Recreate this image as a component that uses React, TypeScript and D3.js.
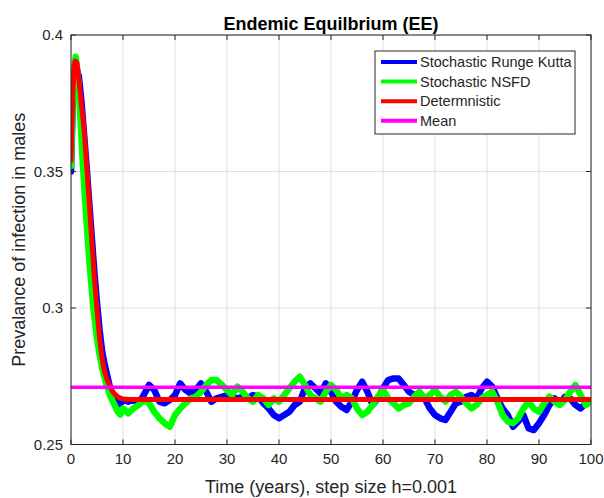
import React from "react";
import * as d3 from "d3";

const title = "Endemic Equilbrium (EE)";
const xLabel = "Time (years), step size h=0.001";
const yLabel = "Prevalance of infection in males";
const xTicks = [0, 10, 20, 30, 40, 50, 60, 70, 80, 90, 100];
const yTicks = [0.25, 0.3, 0.35, 0.4];
const seriesNames = ["Stochastic Runge Kutta", "Stochastic NSFD", "Determnistic", "Mean"];
const seriesColors = ["#0000ff", "#00ff00", "#ff0000", "#ff00ff"];

// Deterministic solution
const detT = [0, 0.25, 0.5, 0.8, 1.1, 1.5, 2.0, 2.5, 3.0, 3.5, 4.0, 4.5, 5.0, 5.5, 6.0, 6.5, 7.0, 7.5, 8.0, 8.5, 9.0, 9.5, 10, 11, 100];
const detV = [0.354, 0.372, 0.385, 0.3905, 0.390, 0.384, 0.3745, 0.3655, 0.3525, 0.339, 0.3245, 0.311, 0.2995, 0.289, 0.2815, 0.2765, 0.2735, 0.2712, 0.2695, 0.2683, 0.2675, 0.2670, 0.2667, 0.2665, 0.2665];

// Stochastic Runge Kutta: transient then yearly readings
const rkT0 = [0, 0.3, 0.6, 1.0, 1.5, 2.0, 2.5, 3.0, 3.5, 4.0, 4.5, 5.0, 5.5, 6.0, 6.5, 7.0, 7.5, 8.0, 8.5, 9.0, 9.5];
const rkV0 = [0.350, 0.372, 0.385, 0.388, 0.385, 0.376, 0.364, 0.352, 0.339, 0.326, 0.313, 0.302, 0.292, 0.284, 0.279, 0.275, 0.271, 0.268, 0.266, 0.2645, 0.265];
const rkV = [
  0.2663, 0.2657, 0.2663, 0.2651, 0.2681, 0.2718, 0.2700, 0.2657, 0.2651, 0.2663,
  0.2681, 0.2724, 0.2700, 0.2687, 0.2700, 0.2724, 0.2693, 0.2657, 0.2669, 0.2675,
  0.2681, 0.2675, 0.2669, 0.2675, 0.2669, 0.2681, 0.2675, 0.2651, 0.2632, 0.2608,
  0.2596, 0.2608, 0.2620, 0.2645, 0.2657, 0.2706, 0.2724, 0.2706, 0.2687, 0.2724,
  0.2693, 0.2657, 0.2638, 0.2626, 0.2657, 0.2700, 0.2730, 0.2693, 0.2645, 0.2669,
  0.2706, 0.2736, 0.2742, 0.2742, 0.2718, 0.2693, 0.2681, 0.2687, 0.2669, 0.2632,
  0.2608, 0.2596, 0.2590, 0.2620, 0.2651, 0.2657, 0.2675, 0.2681, 0.2669, 0.2706,
  0.2730, 0.2712, 0.2669, 0.2632, 0.2608, 0.2565, 0.2584, 0.2608, 0.2559, 0.2553,
  0.2578, 0.2608, 0.2645, 0.2669, 0.2651, 0.2675, 0.2669, 0.2645, 0.2632, 0.2651,
  0.2657,
];

// Stochastic NSFD
const nsT0 = [0, 0.3, 0.6, 0.9, 1.3, 1.8, 2.3, 2.8, 3.3, 3.8, 4.3, 5.0, 5.5, 6.0, 6.5, 7.0, 7.5, 8.0, 8.5, 9.0, 9.5];
const nsV0 = [0.352, 0.375, 0.388, 0.392, 0.385, 0.370, 0.352, 0.337, 0.323, 0.311, 0.300, 0.289, 0.283, 0.278, 0.274, 0.271, 0.268, 0.266, 0.264, 0.262, 0.261];
const nsV = [
  0.2632, 0.2614, 0.2632, 0.2645, 0.2663, 0.2651, 0.2620, 0.2596, 0.2578, 0.2565,
  0.2608, 0.2632, 0.2651, 0.2669, 0.2675, 0.2693, 0.2718, 0.2736, 0.2736, 0.2718,
  0.2700, 0.2681, 0.2712, 0.2693, 0.2669, 0.2657, 0.2681, 0.2669, 0.2645, 0.2669,
  0.2657, 0.2681, 0.2706, 0.2730, 0.2748, 0.2718, 0.2681, 0.2669, 0.2657, 0.2693,
  0.2718, 0.2700, 0.2669, 0.2681, 0.2669, 0.2632, 0.2608, 0.2620, 0.2645, 0.2675,
  0.2700, 0.2669, 0.2651, 0.2632, 0.2645, 0.2651, 0.2675, 0.2693, 0.2669, 0.2681,
  0.2700, 0.2675, 0.2657, 0.2681, 0.2693, 0.2675, 0.2651, 0.2632, 0.2645, 0.2669,
  0.2681, 0.2693, 0.2657, 0.2608, 0.2584, 0.2578, 0.2596, 0.2632, 0.2657, 0.2632,
  0.2620, 0.2651, 0.2675, 0.2657, 0.2645, 0.2663, 0.2693, 0.2718, 0.2681, 0.2645,
  0.2657,
];
const yearsFrom10 = d3.range(10, 101);
const meanValue = 0.2710;

const W = 604;
const H = 498;
const M = { left: 71, right: 591, top: 35, bottom: 444.5 };
const textColor = "#262626";
const font = "'Liberation Sans', Arial, Helvetica, sans-serif";

export default function App() {
  const x = d3.scaleLinear().domain([0, 100]).range([M.left, M.right]);
  const y = d3.scaleLinear().domain([0.25, 0.4]).range([M.bottom, M.top]);

  const rk: [number, number][] = [
    ...rkT0.map((t, i) => [t, rkV0[i]] as [number, number]),
    ...yearsFrom10.map((t, i) => [t, rkV[i]] as [number, number]),
  ];
  const ns: [number, number][] = [
    ...nsT0.map((t, i) => [t, nsV0[i]] as [number, number]),
    ...yearsFrom10.map((t, i) => [t, nsV[i]] as [number, number]),
  ];
  const det: [number, number][] = detT.map((t, i) => [t, detV[i]]);
  const mean: [number, number][] = [[0, meanValue], [100, meanValue]];

  const smooth = d3
    .line<[number, number]>()
    .x((d) => x(d[0]))
    .y((d) => y(d[1]))
    .curve(d3.curveMonotoneX);
  const jagged = d3
    .line<[number, number]>()
    .x((d) => x(d[0]))
    .y((d) => y(d[1]))
    .curve(d3.curveLinear);

  const legendX = 375;
  const legendY = 51;
  const legendW = 200;
  const legendH = 83;
  const rowH = 19.6;

  return (
    <svg
      width={W}
      height={H}
      style={{ position: "absolute", left: 0, top: 0, background: "#fff" }}
      fontFamily={font}
    >
      <rect x={0} y={0} width={W} height={H} fill="#fff" />
      <defs>
        <clipPath id="plotclip">
          <rect x={M.left} y={M.top} width={M.right - M.left} height={M.bottom - M.top} />
        </clipPath>
      </defs>
      {/* grid */}
      {xTicks.map((t) => (
        <line key={"gx" + t} x1={x(t)} x2={x(t)} y1={M.top} y2={M.bottom} stroke="#dfdfdf" strokeWidth={1} />
      ))}
      {yTicks.map((t) => (
        <line key={"gy" + t} x1={M.left} x2={M.right} y1={y(t)} y2={y(t)} stroke="#dfdfdf" strokeWidth={1} />
      ))}
      {/* series */}
      <g clipPath="url(#plotclip)" fill="none" strokeLinejoin="round" strokeLinecap="round">
        <path d={jagged(rk) || ""} stroke={seriesColors[0]} strokeWidth={6.5} />
        <path d={jagged(ns) || ""} stroke={seriesColors[1]} strokeWidth={6.5} />
        <path d={smooth(det) || ""} stroke={seriesColors[2]} strokeWidth={5} />
        <path d={smooth(mean) || ""} stroke={seriesColors[3]} strokeWidth={3.5} strokeLinecap="butt" />
      </g>
      {/* box */}
      <rect
        x={M.left}
        y={M.top}
        width={M.right - M.left}
        height={M.bottom - M.top}
        fill="none"
        stroke={textColor}
        strokeWidth={1}
      />
      {/* ticks */}
      {xTicks.map((t) => (
        <g key={"tx" + t}>
          <line x1={x(t)} x2={x(t)} y1={M.bottom} y2={M.bottom - 5} stroke={textColor} />
          <line x1={x(t)} x2={x(t)} y1={M.top} y2={M.top + 5} stroke={textColor} />
          <text x={x(t)} y={M.bottom + 19.5} textAnchor="middle" fontSize={15} fill={textColor}>
            {t}
          </text>
        </g>
      ))}
      {yTicks.map((t) => (
        <g key={"ty" + t}>
          <line x1={M.left} x2={M.left + 5} y1={y(t)} y2={y(t)} stroke={textColor} />
          <line x1={M.right} x2={M.right - 5} y1={y(t)} y2={y(t)} stroke={textColor} />
          <text x={M.left - 8} y={y(t) + 5} textAnchor="end" fontSize={15} fill={textColor}>
            {d3.format("")(t)}
          </text>
        </g>
      ))}
      {/* labels */}
      <text x={(M.left + M.right) / 2} y={30} textAnchor="middle" fontSize={18} fontWeight="bold" fill="#000">
        {title}
      </text>
      <text x={(M.left + M.right) / 2} y={493} textAnchor="middle" fontSize={18} fill={textColor}>
        {xLabel}
      </text>
      <text
        transform={`translate(25, ${(M.top + M.bottom) / 2}) rotate(-90)`}
        textAnchor="middle"
        fontSize={18}
        fill={textColor}
      >
        {yLabel}
      </text>
      {/* legend */}
      <rect x={legendX} y={legendY} width={legendW} height={legendH} fill="#fff" stroke={textColor} strokeWidth={1} />
      {seriesNames.map((name, i) => {
        const cy = legendY + 11 + i * rowH;
        return (
          <g key={name}>
            <line x1={legendX + 6} x2={legendX + 42} y1={cy} y2={cy} stroke={seriesColors[i]} strokeWidth={4} />
            <text x={legendX + 45} y={cy + 5} fontSize={14.5} fill={textColor}>
              {name}
            </text>
          </g>
        );
      })}
    </svg>
  );
}
